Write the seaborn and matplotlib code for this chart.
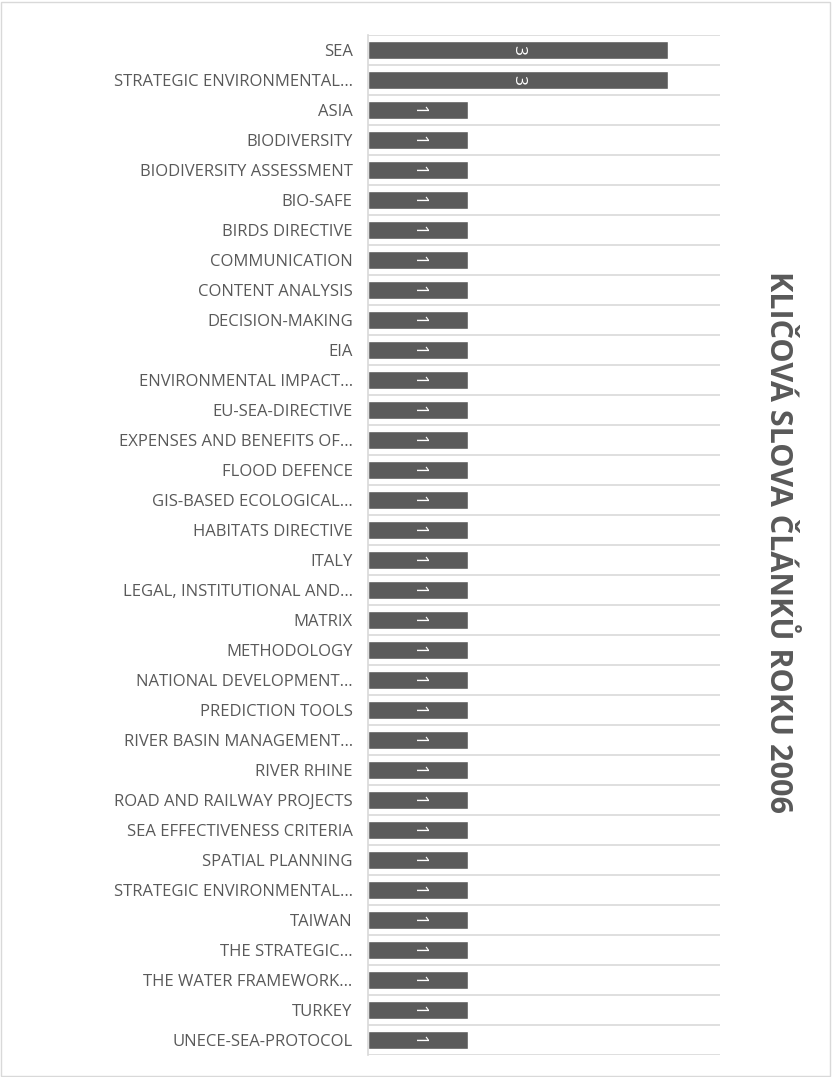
import pandas as pd
import matplotlib.pyplot as plt
import seaborn as sns

keywords = [
    "SEA", "STRATEGIC ENVIRONMENTAL…", "ASIA", "BIODIVERSITY",
    "BIODIVERSITY ASSESSMENT", "BIO-SAFE", "BIRDS DIRECTIVE", "COMMUNICATION",
    "CONTENT ANALYSIS", "DECISION-MAKING", "EIA", "ENVIRONMENTAL IMPACT…",
    "EU-SEA-DIRECTIVE", "EXPENSES AND BENEFITS OF…", "FLOOD DEFENCE",
    "GIS-BASED ECOLOGICAL…", "HABITATS DIRECTIVE", "ITALY",
    "LEGAL, INSTITUTIONAL AND…", "MATRIX", "METHODOLOGY",
    "NATIONAL DEVELOPMENT…", "PREDICTION TOOLS", "RIVER BASIN MANAGEMENT…",
    "RIVER RHINE", "ROAD AND RAILWAY PROJECTS", "SEA EFFECTIVENESS CRITERIA",
    "SPATIAL PLANNING", "STRATEGIC ENVIRONMENTAL…", "TAIWAN", "THE STRATEGIC…",
    "THE WATER FRAMEWORK…", "TURKEY", "UNECE-SEA-PROTOCOL",
]
counts = [3, 3] + [1] * 32

title = "KLIČOVÁ SLOVA ČLÁNKŮ ROKU 2006"

# duplicate label text exists, so keep position as the y key
df = pd.DataFrame({"pos": range(len(keywords)), "count": counts})

sns.set_theme(style="white")
plt.rcParams['font.family'] = ['Open Sans', 'DejaVu Sans']

fig = plt.figure(figsize=(8.32, 10.77), dpi=100)
ax = fig.add_axes([368 / 832, 22 / 1077, 352 / 832, 1020 / 1077])

sns.barplot(data=df, x="count", y="pos", orient="h", order=list(range(len(keywords))),
            color="#5b5b5b", saturation=1, width=0.57, ax=ax)

ax.set_xlim(0, 3.52)
ax.set_ylim(len(keywords) - 0.5, -0.5)
ax.set_yticks(range(len(keywords)))
ax.set_yticklabels(keywords, fontsize=12, color="#595959")
ax.tick_params(axis="y", length=0, pad=11)
ax.set_xticks([])
ax.set_xlabel("")
ax.set_ylabel("")

for b in range(len(keywords) + 1):
    ax.axhline(b - 0.5, color="#d9d9d9", lw=1.2, zorder=0)

for s in ["top", "right", "bottom"]:
    ax.spines[s].set_visible(False)
ax.spines["left"].set_color("#d9d9d9")
ax.spines["left"].set_linewidth(1.2)

for cont in ax.containers:
    ax.bar_label(cont, label_type="center", rotation=-90, color="white", fontsize=12.5)

fig.text(778 / 832, 1 - 542 / 1077, title, rotation=-90, ha="center", va="center",
         fontsize=22, fontweight="bold", color="#595959")

fig.patches.append(plt.Rectangle((0.001, 0.001), 0.997, 0.997, transform=fig.transFigure,
                                 fill=False, edgecolor="#d9d9d9", lw=1))

fig.savefig("out.png", dpi=100)
